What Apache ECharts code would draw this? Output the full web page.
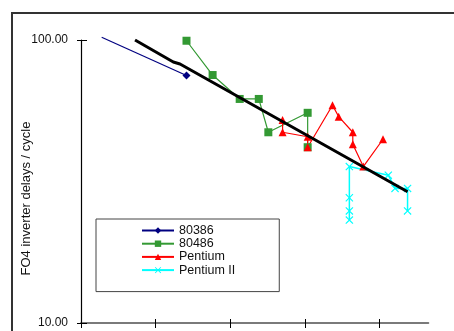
<!DOCTYPE html>
<html>
<head>
<meta charset="utf-8">
<script src="https://cdn.jsdelivr.net/npm/echarts@6/dist/echarts.min.js"></script>
<style>html,body{margin:0;padding:0;background:#fff}#c{width:454px;height:331px}</style>
</head>
<body>
<div id="c"></div>
<script>
// ---- data (x in axis units between unlabelled ticks, y = FO4 delays / cycle) ----
const seriesNames = ['80386', '80486', 'Pentium', 'Pentium II'];
const xTicks = [0, 1, 2, 3, 4];
const yTicks = [10, 100];
const data80386 = [[0.277, 102.2], [1.414, 74.9]];
const data80486 = [[1.414, 99.4], [1.764, 75.2], [2.127, 61.9], [2.383, 61.9], [2.511, 47.2], [3.038, 55.3], [3.038, 41.8]];
const dataPentium = [[2.702, 52.2], [2.702, 47.2], [3.038, 45.5], [3.038, 41.8], [3.371, 58.8], [3.454, 53.6], [3.643, 47.2], [3.643, 42.8], [3.784, 35.7], [4.048, 44.6]];
const dataPentiumII = [[3.597, 23.1], [3.597, 24.9], [3.597, 27.7], [3.597, 35.7], [4.119, 33.3], [4.209, 29.9], [4.377, 29.9], [4.377, 24.9]];
const dataTrend = [[0.724, 100], [1.237, 83.6], [1.327, 82.3], [4.377, 29.1]];

const FONT = '"Liberation Sans", Arial, sans-serif';
const X_SYMBOL = 'path://M0,1L1,0L5,4L9,0L10,1L6,5L10,9L9,10L5,6L1,10L0,9L4,5Z';

const chart = echarts.init(document.getElementById('c'), null, {renderer: 'canvas'});

const baseX = {
  type: 'value', min: 0, max: 4.655, interval: 1,
  axisLabel: {show: false},
  splitLine: {show: false}
};
const baseY = {
  type: 'log', logBase: 10, min: 10, max: 100,
  splitLine: {show: false}
};

chart.setOption({
  animation: false,
  backgroundColor: '#ffffff',
  textStyle: {fontFamily: FONT},
  graphic: [{
    type: 'rect', shape: {x: 12, y: 13, width: 520, height: 420},
    style: {fill: 'none', stroke: '#333333', lineWidth: 2}, z: -1, silent: true
  }],
  grid: {left: 81, top: 40, right: 25.7, bottom: 8, containLabel: false},
  legend: {
    orient: 'vertical', left: 96, top: 219,
    padding: [5, 44, 15, 45],
    borderColor: '#444444', borderWidth: 1, backgroundColor: '#ffffff',
    itemWidth: 32, itemHeight: 8, itemGap: 0.2,
    data: seriesNames,
    textStyle: {fontFamily: FONT, fontSize: 12.5, color: '#111111'}
  },
  xAxis: [
    Object.assign({}, baseX, {
      axisLine: {show: true, lineStyle: {color: '#7a7a7a', width: 2}},
      axisTick: {show: true, inside: false, length: 5, customValues: xTicks, lineStyle: {color: '#000', width: 1}}
    }),
    Object.assign({}, baseX, {
      position: 'bottom',
      axisLine: {show: false},
      axisTick: {show: true, inside: true, length: 4, customValues: xTicks, lineStyle: {color: '#000', width: 1}}
    })
  ],
  yAxis: [
    Object.assign({}, baseY, {
      name: 'FO4 inverter delays / cycle',
      nameLocation: 'middle', nameGap: 48, nameMoveOverlap: false,
      nameTextStyle: {fontFamily: FONT, fontSize: 13, color: '#111111', padding: [0, 34, 0, 0]},
      axisLine: {show: true, lineStyle: {color: '#000', width: 1.2}},
      axisTick: {show: true, inside: false, length: 4, customValues: yTicks, lineStyle: {color: '#000', width: 1}},
      axisLabel: {show: true, margin: 13, customValues: yTicks, fontFamily: FONT, fontSize: 12, color: '#111111',
        formatter: v => Number(v).toFixed(2)}
    }),
    Object.assign({}, baseY, {
      position: 'left',
      axisLine: {show: false},
      axisLabel: {show: false},
      axisTick: {show: true, inside: true, length: 6, customValues: yTicks, lineStyle: {color: '#000', width: 1}}
    })
  ],
  series: [
    {
      name: '80386', type: 'line', clip: false,
      data: data80386.map((p, i) => i === 0 ? {value: p, symbol: 'none'} : p),
      symbol: 'diamond', symbolSize: 8,
      lineStyle: {color: '#000080', width: 1.2}, itemStyle: {color: '#000080'}, z: 3
    },
    {
      name: '80486', type: 'line', data: data80486,
      symbol: 'rect', symbolSize: 8,
      lineStyle: {color: '#339933', width: 1.2}, itemStyle: {color: '#339933'}, z: 3
    },
    {
      name: 'Pentium', type: 'line', data: dataPentium,
      symbol: 'triangle', symbolSize: 8,
      lineStyle: {color: '#ff0000', width: 1.2}, itemStyle: {color: '#ff0000'}, z: 3
    },
    {
      name: 'Pentium II', type: 'line', data: dataPentiumII,
      symbol: X_SYMBOL, symbolSize: 8,
      lineStyle: {color: '#00ffff', width: 1.5}, itemStyle: {color: '#00ffff'}, z: 3
    },
    {
      name: 'trend', type: 'line', data: dataTrend,
      symbol: 'none', lineStyle: {color: '#000000', width: 3}, z: 4
    }
  ]
});
</script>
</body>
</html>
